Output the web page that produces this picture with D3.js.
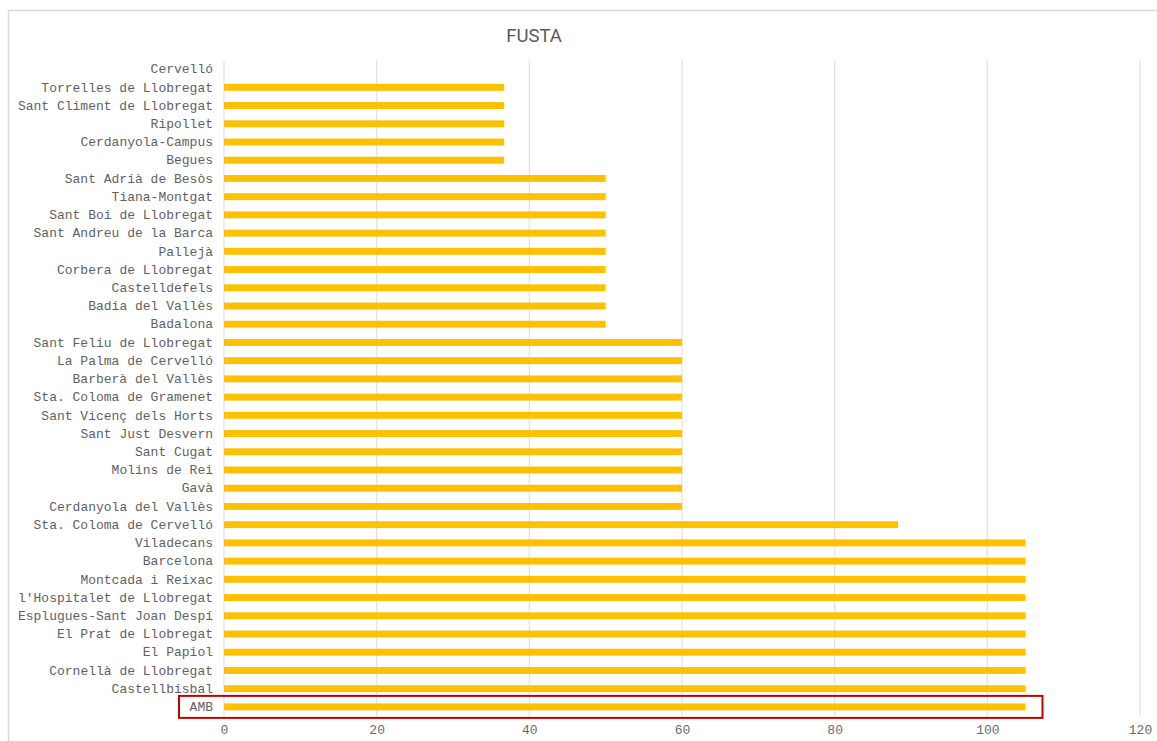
<!DOCTYPE html>
<html>
<head>
<meta charset="utf-8">
<script src="https://cdn.jsdelivr.net/npm/d3@7"></script>
<style>
  body { margin: 0; background: #fff; }
  svg { display: block; }
  .cat text { font-family: "Liberation Mono", "DejaVu Sans Mono", monospace; font-size: 13px; fill: #5f5f5f; }
  .xax text { font-family: "Liberation Mono", "DejaVu Sans Mono", monospace; font-size: 13px; fill: #6a6a6a; }
</style>
</head>
<body>
<script>
var width = 1157, height = 741;

// categories top -> bottom, as in the picture
var municipis = [
  'Cervelló', 'Torrelles de Llobregat', 'Sant Climent de Llobregat', 'Ripollet',
  'Cerdanyola-Campus', 'Begues', 'Sant Adrià de Besòs', 'Tiana-Montgat',
  'Sant Boi de Llobregat', 'Sant Andreu de la Barca', 'Pallejà', 'Corbera de Llobregat',
  'Castelldefels', 'Badia del Vallès', 'Badalona', 'Sant Feliu de Llobregat',
  'La Palma de Cervelló', 'Barberà del Vallès', 'Sta. Coloma de Gramenet',
  'Sant Vicenç dels Horts', 'Sant Just Desvern', 'Sant Cugat', 'Molins de Rei', 'Gavà',
  'Cerdanyola del Vallès', 'Sta. Coloma de Cervelló', 'Viladecans', 'Barcelona',
  'Montcada i Reixac', "l'Hospitalet de Llobregat", 'Esplugues-Sant Joan Despí',
  'El Prat de Llobregat', 'El Papiol', 'Cornellà de Llobregat', 'Castellbisbal', 'AMB'
];
var fusta = [
  0, 36.7, 36.7, 36.7, 36.7, 36.7, 50, 50, 50, 50, 50, 50, 50, 50, 50,
  60, 60, 60, 60, 60, 60, 60, 60, 60, 60, 88.3,
  105, 105, 105, 105, 105, 105, 105, 105, 105, 105
];
var xTicks = [0, 20, 40, 60, 80, 100, 120];
var highlighted = 'AMB';

var svg = d3.select('body').append('svg')
  .attr('width', width).attr('height', height);

// frame of the chart area (cropped at right and bottom)
svg.append('path')
  .attr('d', 'M8.5,' + height + 'V10.5H' + width)
  .attr('fill', 'none').attr('stroke', '#d9d9d9').attr('stroke-width', 1.5);

var x = d3.scaleLinear().domain([0, 120]).range([224, 1140]);
var y = d3.scaleBand().domain(municipis).range([60, 716]).paddingInner(0.62).paddingOuter(0.31);

svg.append('text')
  .attr('x', 534).attr('y', 42)
  .attr('text-anchor', 'middle')
  .style('font-family', 'Roboto, "Noto Sans", sans-serif')
  .style('font-size', '18.5px')
  .style('fill', '#595959')
  .text('FUSTA');

// gridlines
svg.append('g').selectAll('line')
  .data(xTicks)
  .join('line')
  .attr('x1', d => x(d)).attr('x2', d => x(d))
  .attr('y1', 60).attr('y2', 716)
  .attr('stroke', '#e3e3e3').attr('stroke-width', 1.3);

// bars
svg.append('g').selectAll('rect')
  .data(municipis)
  .join('rect')
  .attr('x', x(0))
  .attr('y', d => y(d))
  .attr('width', (d, i) => x(fusta[i]) - x(0))
  .attr('height', y.bandwidth())
  .attr('fill', '#ffc000');

// category axis
var yAxis = svg.append('g').attr('class', 'cat')
  .attr('transform', 'translate(' + x(0) + ',0)')
  .call(d3.axisLeft(y).tickSize(0).tickPadding(11));
yAxis.select('.domain').remove();

// value axis
var xAxis = svg.append('g').attr('class', 'xax')
  .attr('transform', 'translate(0,716)')
  .call(d3.axisBottom(x).tickValues(xTicks).tickSize(0).tickPadding(9));
xAxis.select('.domain').remove();

// highlight box around AMB
var hi = municipis.indexOf(highlighted);
svg.append('rect')
  .attr('x', x(0) - 45)
  .attr('y', y(highlighted) + y.bandwidth() / 2 - 11)
  .attr('width', x(fusta[hi]) + 17 - (x(0) - 45))
  .attr('height', 22)
  .attr('fill', 'none')
  .attr('stroke', '#c00000')
  .attr('stroke-width', 2);
</script>
</body>
</html>
